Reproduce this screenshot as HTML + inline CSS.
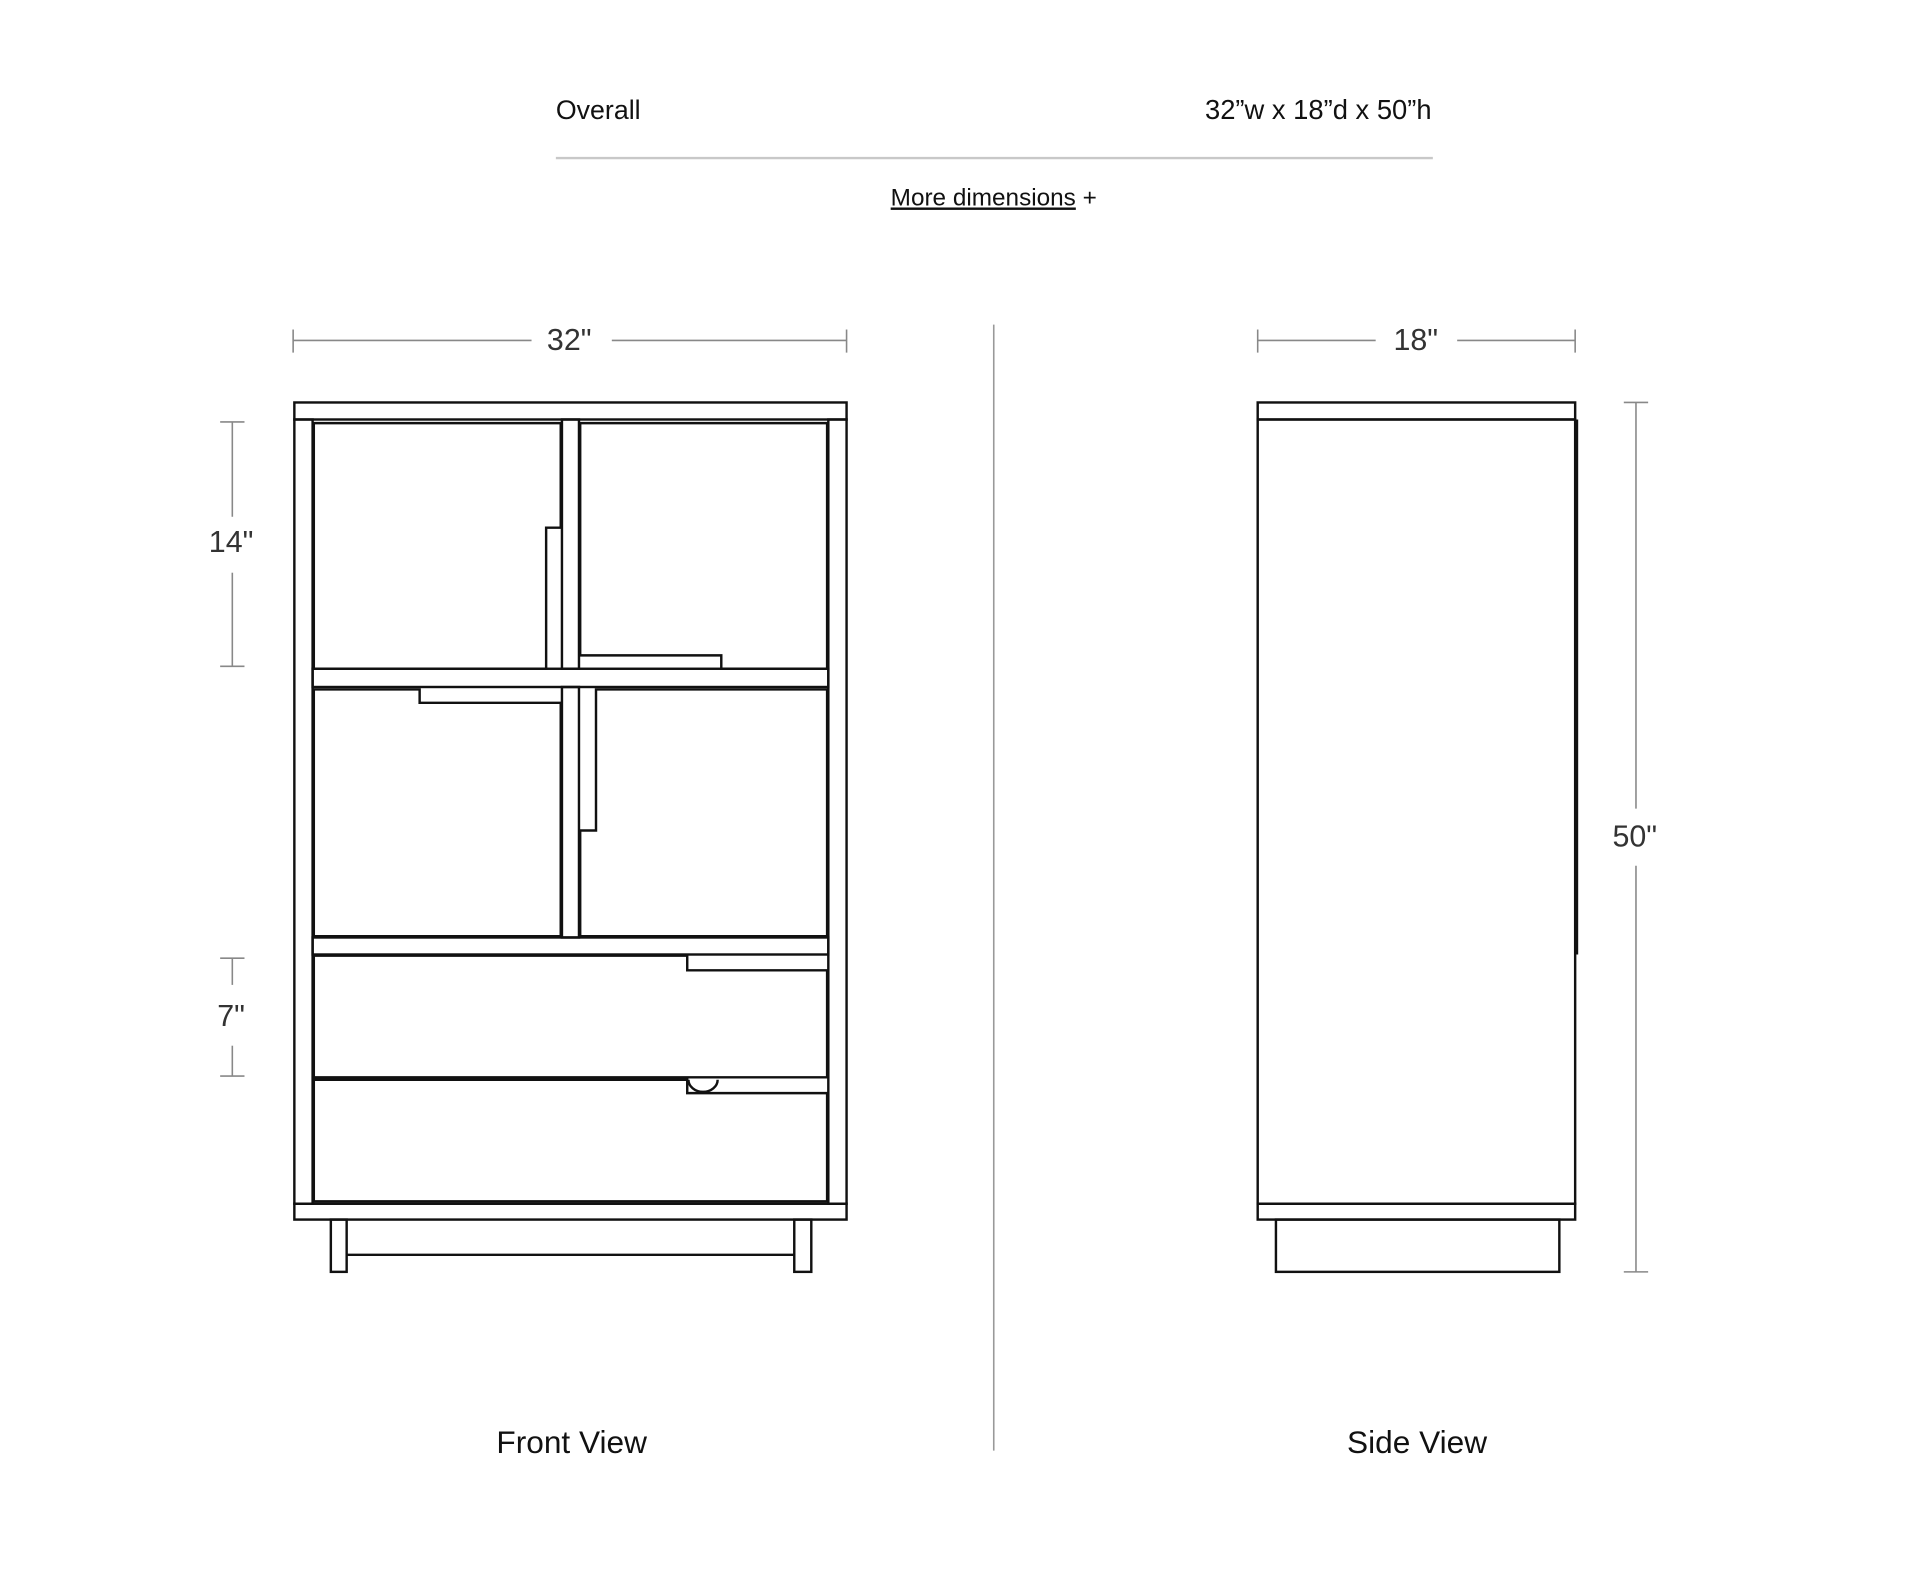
<!DOCTYPE html>
<html><head><meta charset="utf-8"><style>
html,body{margin:0;padding:0;background:#fff;}
svg{display:block;}
</style></head><body>
<svg width="1906" height="1588" viewBox="0 0 1567 1306" preserveAspectRatio="none" xmlns="http://www.w3.org/2000/svg" font-family="Liberation Sans, sans-serif">
<rect width="1567" height="1306" fill="#fff"/>
<text x="457" y="98" font-size="22" fill="#111">Overall</text>
<text x="1177" y="98" font-size="22.5" fill="#111" text-anchor="end">32”w x 18”d x 50”h</text>
<line x1="457" y1="130" x2="1178" y2="130" stroke="#c8c8c8" stroke-width="2"/>
<text x="817" y="169" font-size="20" fill="#111" text-anchor="middle"><tspan text-decoration="underline">More dimensions</tspan> +</text>

<g stroke="#888" stroke-width="1.3" fill="none">
<line x1="241" y1="280" x2="437" y2="280"/><line x1="503" y1="280" x2="696" y2="280"/>
<line x1="241" y1="271" x2="241" y2="290"/><line x1="696" y1="271" x2="696" y2="290"/>
<line x1="191" y1="347" x2="191" y2="425"/><line x1="191" y1="471" x2="191" y2="548"/>
<line x1="181" y1="347" x2="201" y2="347"/><line x1="181" y1="548" x2="201" y2="548"/>
<line x1="191" y1="788" x2="191" y2="810"/><line x1="191" y1="860" x2="191" y2="885"/>
<line x1="181" y1="788" x2="201" y2="788"/><line x1="181" y1="885" x2="201" y2="885"/>
<line x1="817" y1="267" x2="817" y2="1193" stroke="#999"/>
<line x1="1034" y1="280" x2="1131" y2="280"/><line x1="1198" y1="280" x2="1295" y2="280"/>
<line x1="1034" y1="271" x2="1034" y2="290"/><line x1="1295" y1="271" x2="1295" y2="290"/>
<line x1="1345" y1="331" x2="1345" y2="665"/><line x1="1345" y1="712" x2="1345" y2="1046"/>
<line x1="1335" y1="331" x2="1355" y2="331"/><line x1="1335" y1="1046" x2="1355" y2="1046"/>
</g>
<g font-size="25" fill="#333" text-anchor="middle">
<text x="468" y="288">32"</text>
<text x="190" y="454">14"</text>
<text x="190" y="844">7"</text>
<text x="1164" y="288">18"</text>
<text x="1344" y="696">50"</text>
</g>

<g stroke="#111" stroke-width="2" fill="none">
<rect x="242" y="331" width="454" height="14"/>
<rect x="242" y="345" width="15" height="645"/>
<rect x="681" y="345" width="15" height="645"/>
<rect x="242" y="990" width="454" height="13"/>
<rect x="462" y="345" width="14" height="205"/>
<rect x="462" y="565" width="14" height="206"/>
<rect x="257" y="550" width="424" height="15"/>
<rect x="257" y="771" width="424" height="14"/>
<rect x="272" y="1003" width="13" height="43"/>
<rect x="653" y="1003" width="14" height="43"/>
<line x1="285" y1="1032" x2="653" y2="1032"/>
<path d="M258 348 H461 V434 H449 V550 H258 Z"/>
<path d="M477 348 H680 V550 H593 V539 H477 Z"/>
<path d="M258 567 H345 V578 H461 V770 H258 Z"/>
<path d="M490 567 H680 V770 H477 V683 H490 Z"/>
<path d="M258 786 H565 V798 H680 V886 H258 Z"/>
<path d="M258 888 H565 V899 H680 V988 H258 Z"/>
<path d="M566 888 A12 10 0 0 0 590 888"/>
<rect x="1034" y="331" width="261" height="14"/>
<rect x="1034" y="345" width="261" height="645"/>
<rect x="1034" y="990" width="261" height="13"/>
<rect x="1049" y="1003" width="233" height="43"/>
</g>
<line x1="1296" y1="345" x2="1296" y2="785" stroke="#111" stroke-width="3"/>

<text x="470" y="1195" font-size="26" fill="#111" text-anchor="middle">Front View</text>
<text x="1165" y="1195" font-size="26" fill="#111" text-anchor="middle">Side View</text>
</svg>
</body></html>
